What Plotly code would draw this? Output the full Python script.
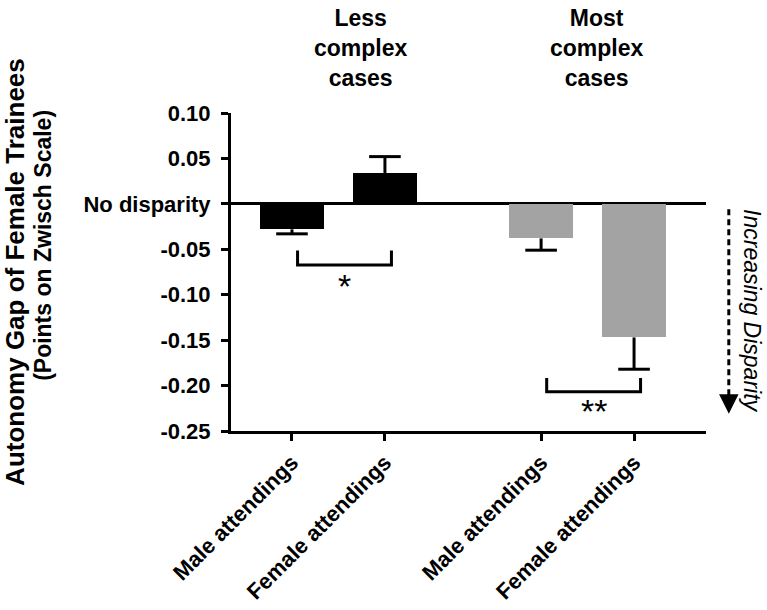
import plotly.graph_objects as go

# ---- data ----
groups = ["Less complex cases", "Most complex cases"]
categories = ["Male attendings", "Female attendings", "Male attendings", "Female attendings"]
group_of_bar = [0, 0, 1, 1]
values = [-0.028, 0.034, -0.038, -0.147]
errors = [0.005, 0.018, 0.013, 0.035]
y_ticks = [0.10, 0.05, 0.0, -0.05, -0.10, -0.15, -0.20, -0.25]
y_tick_labels = ["0.10", "0.05", "No disparity", "-0.05", "-0.10", "-0.15", "-0.20", "-0.25"]
significance = [(0, 1, "*"), (2, 3, "**")]

# ---- layout helpers ----
group_gap = 2.68
within = [0, 1, 0, 1]
pos = [g * group_gap + w for g, w in zip(group_of_bar, within)]
group_colors = ["#000000", "#a3a3a3"]
bar_colors = [group_colors[g] for g in group_of_bar]
header_offset = [0.24, 0.10]
FONT = "Liberation Sans, Arial, sans-serif"

fig = go.Figure()
fig.add_trace(go.Bar(x=pos, y=values, width=0.68, marker=dict(color=bar_colors, line=dict(width=0)),
                     showlegend=False, hoverinfo="skip"))

# one-sided error bars (away from zero)
cap = 0.17
ex, ey = [], []
for p, v, e in zip(pos, values, errors):
    end = v + e if v >= 0 else v - e
    ex += [p, p, None, p - cap, p + cap, None]
    ey += [v, end, None, end, end, None]
fig.add_trace(go.Scatter(x=ex, y=ey, mode="lines", line=dict(color="black", width=3),
                         showlegend=False, hoverinfo="skip", cliponaxis=False))

# significance brackets
bracket_levels = {0: (-0.0514, -0.0672), 1: (-0.1916, -0.2067)}
star_y = {0: -0.090, 1: -0.228}
bx, by = [], []
for i, j, star in significance:
    top, bot = bracket_levels[group_of_bar[i]]
    x0, x1 = pos[i] + 0.06, pos[j] + 0.07
    bx += [x0, x0, x1, x1, None]
    by += [top, bot, bot, top, None]
    fig.add_annotation(x=(x0 + x1) / 2, y=star_y[group_of_bar[i]], text=star, showarrow=False,
                       font=dict(family=FONT, size=34, color="black"), xanchor="center", yanchor="middle")
fig.add_trace(go.Scatter(x=bx, y=by, mode="lines", line=dict(color="black", width=3),
                         showlegend=False, hoverinfo="skip", cliponaxis=False))

# group headers
for g, name in enumerate(groups):
    gp = [p for p, gg in zip(pos, group_of_bar) if gg == g]
    words = name.split(" ")
    fig.add_annotation(x=(gp[0] + gp[1]) / 2 + header_offset[g], xref="x", y=1.205, yref="paper",
                       text="<b>" + "<br>".join(words) + "</b>", showarrow=False,
                       font=dict(family=FONT, size=23, color="black"), xanchor="center", yanchor="middle")

# y titles
fig.add_annotation(x=-0.455, y=0.50, xref="paper", yref="paper", textangle=-90,
                   text="<b>Autonomy Gap of Female Trainees</b>", showarrow=False,
                   xanchor="center", yanchor="middle",
                   font=dict(family=FONT, size=26, color="black"))
fig.add_annotation(x=-0.396, y=0.585, xref="paper", yref="paper", textangle=-90,
                   text="<b>(Points on Zwisch Scale)</b>", showarrow=False,
                   xanchor="center", yanchor="middle",
                   font=dict(family=FONT, size=23, color="black"))

# increasing disparity arrow
fig.add_shape(type="line", xref="paper", yref="y", x0=1.048, x1=1.048, y0=-0.006, y1=-0.220,
              line=dict(color="black", width=3, dash="6px,4px"))
fig.add_annotation(x=1.048, xref="paper", y=-0.231, yref="y", ax=0, ay=-16, text="",
                   showarrow=True, arrowhead=2, arrowsize=1.3, arrowwidth=3, arrowcolor="black")
fig.add_annotation(x=1.097, xref="paper", y=-0.117, yref="y", textangle=90,
                   text="<i>Increasing Disparity</i>", showarrow=False,
                   xanchor="center", yanchor="middle",
                   font=dict(family=FONT, size=23, color="black"))

fig.update_layout(
    width=767, height=610,
    margin=dict(l=231, r=61, t=113, b=179, autoexpand=False),
    plot_bgcolor="white", paper_bgcolor="white",
    bargap=0,
)
fig.update_xaxes(range=[-0.656, 4.454], tickmode="array", tickvals=pos,
                 ticktext=["<b>%s</b>" % c for c in categories],
                 tickangle=-45, ticks="outside", ticklen=7, tickwidth=3, tickcolor="black",
                 showline=True, linecolor="black", linewidth=3, showgrid=False, zeroline=False,
                 automargin=False,
                 tickfont=dict(family=FONT, size=22, color="black"), fixedrange=True)
fig.update_yaxes(range=[-0.25, 0.10], tickmode="array", tickvals=y_ticks,
                 ticktext=["<b>%s</b>" % t for t in y_tick_labels],
                 ticks="outside", ticklen=7, tickwidth=3, tickcolor="black", ticklabelstandoff=6,
                 showline=True, linecolor="black", linewidth=3, showgrid=False,
                 zeroline=True, zerolinecolor="black", zerolinewidth=2.5, automargin=False,
                 tickfont=dict(family=FONT, size=22, color="black"), fixedrange=True)

# remove the browser's default 8px page margin so the figure fills the window
fig.write_html("out.html", config={"displayModeBar": False},
               post_script="document.body.style.margin='0';document.body.style.overflow='hidden';")
